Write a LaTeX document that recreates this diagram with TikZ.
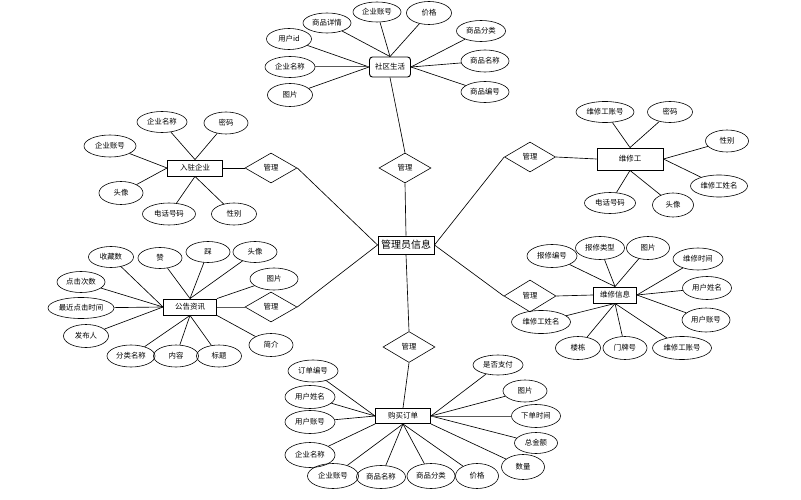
\documentclass[tikz,border=0pt]{standalone}
\usepackage{fontspec}
\newfontfamily\cjk{Noto Sans CJK SC}
\usetikzlibrary{shapes.geometric}
\tikzset{
  ent/.style={draw, line width=0.9pt, inner sep=1pt, fill=white, font=\cjk\fontsize{7.5}{8}\selectfont},
  attr/.style={draw, ellipse, line width=0.6pt, minimum width=45pt, minimum height=22pt, inner sep=0pt, font=\cjk\fontsize{7.4}{8}\selectfont},
  rel/.style={draw, diamond, line width=0.6pt, minimum width=52pt, minimum height=30pt, inner sep=0pt, font=\cjk\fontsize{7.4}{8}\selectfont},
  conn/.style={line width=0.65pt},
  thickconn/.style={line width=1pt, draw=black!65}
}
\begin{document}
\begin{tikzpicture}[x=1pt,y=-1pt]
\useasboundingbox[fill=white] (0,0) rectangle (801,500);
% center
\node[ent, minimum width=56pt, minimum height=18pt, font=\cjk\fontsize{10}{10}\selectfont] (mgr) at (406,245) {管理员信息};

% ---- 社区生活
\node[ent, rounded corners=3pt, minimum width=41pt, minimum height=20pt] (sq) at (390,67) {社区生活};
\node[rel] (d1) at (405,168) {管理};
\node[attr, minimum width=48pt, minimum height=20pt] (sq1) at (327,23) {商品详情};
\node[attr, minimum width=48pt, minimum height=20pt] (sq2) at (377,12) {企业账号};
\node[attr, minimum height=23pt] (sq3) at (429,13) {价格};
\node[attr, minimum width=49pt, minimum height=21pt] (sq4) at (481,31) {商品分类};
\node[attr, minimum width=48pt] (sq5) at (485,61) {商品名称};
\node[attr, minimum width=48pt, minimum height=21pt] (sq6) at (485,92) {商品编号};
\node[attr, minimum height=21pt] (sq7) at (289,39) {用户id};
\node[attr, minimum width=50pt, minimum height=21pt] (sq8) at (290,67) {企业名称};
\node[attr, minimum height=23pt] (sq9) at (290,95) {图片};
\foreach \a in {sq1,sq2,sq3} \draw[conn] (\a) -- (sq.north);
\foreach \a in {sq7,sq9} \draw[conn] (\a) -- (sq.west);
\draw[thickconn] (sq8) -- (sq.west);
\foreach \a in {sq4,sq5,sq6} \draw[conn] (\a) -- (sq.east);
\draw[conn] (sq.south) -- (d1.north);
\draw[conn] (d1.south) -- (mgr.north);

% ---- 入驻企业
\node[ent, minimum width=55pt, minimum height=16pt] (rz) at (195,168) {入驻企业};
\node[rel] (d2) at (271,168) {管理};
\node[attr, minimum width=50pt, minimum height=21pt] (rz1) at (162,122) {企业名称};
\node[attr, minimum width=44pt] (rz2) at (226,123) {密码};
\node[attr, minimum width=52pt] (rz3) at (110,146) {企业账号};
\node[attr, minimum width=44pt, minimum height=23pt] (rz4) at (121,193) {头像};
\node[attr, minimum width=53pt] (rz5) at (169,214) {电话号码};
\node[attr] (rz6) at (234,214) {性别};
\foreach \a in {rz1,rz2} \draw[conn] (\a) -- (rz.north);
\foreach \a in {rz3,rz4} \draw[conn] (\a) -- (rz.west);
\foreach \a in {rz5,rz6} \draw[conn] (\a) -- (rz.south);
\draw[conn] (rz.east) -- (d2.west);
\draw[conn] (d2.east) -- (mgr.west);

% ---- 维修工
\node[ent, minimum width=66pt, minimum height=22pt] (wx) at (630,159) {维修工};
\node[rel, minimum width=51pt] (d3) at (530,157) {管理};
\node[attr, minimum width=58pt, minimum height=21pt] (wx1) at (605,112) {维修工账号};
\node[attr, minimum height=21pt] (wx2) at (670,112) {密码};
\node[attr, minimum width=43pt] (wx3) at (727,141) {性别};
\node[attr, minimum width=57pt] (wx4) at (719,186) {维修工姓名};
\node[attr, minimum width=51pt, minimum height=21pt] (wx5) at (610,203) {电话号码};
\node[attr, minimum width=41pt, minimum height=24pt] (wx6) at (673,205) {头像};
\foreach \a in {wx1,wx2} \draw[conn] (\a) -- (wx.north);
\foreach \a in {wx3,wx4} \draw[conn] (\a) -- (wx.east);
\foreach \a in {wx5,wx6} \draw[conn] (\a) -- (wx.south);
\draw[conn] (d3.east) -- (wx.west);
\draw[conn] (d3.west) -- (mgr.east);

% ---- 公告资讯
\node[ent, minimum width=53pt, minimum height=16pt] (gg) at (190,307) {公告资讯};
\node[rel] (d4) at (271,307) {管理};
\node[attr, minimum height=21pt] (gg1) at (111,257) {收藏数};
\node[attr, minimum width=44pt, minimum height=21pt] (gg2) at (160,258) {赞};
\node[attr, minimum width=44pt, minimum height=21pt] (gg3) at (208,252) {踩};
\node[attr, minimum width=44pt, minimum height=21pt] (gg4) at (255,252) {头像};
\node[attr, minimum width=48pt] (gg5) at (274,279) {图片};
\node[attr, minimum width=48pt, minimum height=21pt] (gg6) at (81,282) {点击次数};
\node[attr, minimum width=66pt, minimum height=21pt] (gg7) at (81,308) {最近点击时间};
\node[attr, minimum height=23pt] (gg8) at (86,336) {发布人};
\node[attr, minimum width=48pt] (gg9) at (131,356) {分类名称};
\node[attr] (gg10) at (176,356) {内容};
\node[attr] (gg11) at (219,356) {标题};
\node[attr, minimum width=44pt, minimum height=23pt] (gg12) at (271,345) {简介};
\foreach \a in {gg1,gg6,gg7,gg8} \draw[conn] (\a) -- (gg.west);
\foreach \a in {gg2,gg3,gg4} \draw[conn] (\a) -- (gg.north);
\draw[conn] (gg5) -- (gg.north east);
\foreach \a in {gg9,gg10,gg11} \draw[conn] (\a) -- (gg.south);
\draw[conn] (gg12) -- (gg.south east);
\draw[thickconn] (gg.east) -- (d4.west);
\draw[conn] (d4.east) -- (mgr.west);

% ---- 维修信息
\node[ent, minimum width=43pt, minimum height=16pt] (wi) at (615,295) {维修信息};
\node[rel, minimum height=32pt] (d5) at (530,296) {管理};
\node[attr, minimum width=50pt, minimum height=23pt] (wi1) at (552,256) {报修编号};
\node[attr, minimum width=49pt, minimum height=23pt] (wi2) at (600,248) {报修类型};
\node[attr, minimum width=43pt, minimum height=23pt] (wi3) at (648,248) {图片};
\node[attr, minimum width=50pt] (wi4) at (698,259) {维修时间};
\node[attr, minimum width=49pt, minimum height=23pt] (wi5) at (707,288) {用户姓名};
\node[attr, minimum width=48pt, minimum height=24pt] (wi6) at (706,320) {用户账号};
\node[attr, minimum width=59pt, minimum height=23pt] (wi7) at (541,322) {维修工姓名};
\node[attr, minimum height=23pt] (wi8) at (578,348) {楼栋};
\node[attr, minimum width=44pt, minimum height=23pt] (wi9) at (625,348) {门牌号};
\node[attr, minimum width=59pt, minimum height=23pt] (wi10) at (682,348) {维修工账号};
\foreach \a in {wi1,wi2,wi3} \draw[conn] (\a) -- (wi.north);
\foreach \a in {wi4,wi5,wi6} \draw[conn] (\a) -- (wi.east);
\foreach \a in {wi7,wi8,wi9,wi10} \draw[conn] (\a) -- (wi.south);
\draw[conn] (d5.east) -- (wi.west);
\draw[conn] (mgr.east) -- (d5.west);

% ---- 购买订单
\node[ent, minimum width=55pt, minimum height=15pt] (gm) at (403,416) {购买订单};
\node[rel, minimum height=31pt] (d6) at (409,347) {管理};
\node[attr, minimum width=50pt] (gm1) at (313,371) {订单编号};
\node[attr, minimum width=50pt, minimum height=23pt] (gm2) at (310,397) {用户姓名};
\node[attr, minimum width=50pt, minimum height=23pt] (gm3) at (310,422) {用户账号};
\node[attr, minimum width=50pt, minimum height=25pt] (gm4) at (310,455) {企业名称};
\node[attr, minimum width=51pt, minimum height=25pt] (gm5) at (333,476) {企业账号};
\node[attr, minimum width=49pt, minimum height=23pt] (gm6) at (381,477) {商品名称};
\node[attr, minimum width=48pt, minimum height=25pt] (gm7) at (431,476) {商品分类};
\node[attr, minimum width=43pt, minimum height=25pt] (gm8) at (477,476) {价格};
\node[attr, minimum width=50pt, minimum height=20pt] (gm9) at (498,365) {是否支付};
\node[attr, minimum width=44pt] (gm10) at (525,391) {图片};
\node[attr, minimum width=49pt, minimum height=23pt] (gm11) at (536,416) {下单时间};
\node[attr, minimum width=43pt, minimum height=21pt] (gm12) at (536,443) {总金额};
\node[attr, minimum width=43pt, minimum height=25pt] (gm13) at (523,467) {数量};
\foreach \a in {gm1,gm2,gm3} \draw[conn] (\a) -- (gm.west);
\draw[conn] (gm4) -- (gm.south west);
\foreach \a in {gm5,gm6,gm7,gm8} \draw[conn] (\a) -- (gm.south);
\foreach \a in {gm9,gm10,gm12} \draw[conn] (\a) -- (gm.east);
\draw[thickconn] (gm11) -- (gm.east);
\draw[conn] (gm13) -- (gm.south east);
\draw[conn] (mgr.south) -- (d6.north);
\draw[conn] (d6.south) -- (gm.north);
\end{tikzpicture}
\end{document}
